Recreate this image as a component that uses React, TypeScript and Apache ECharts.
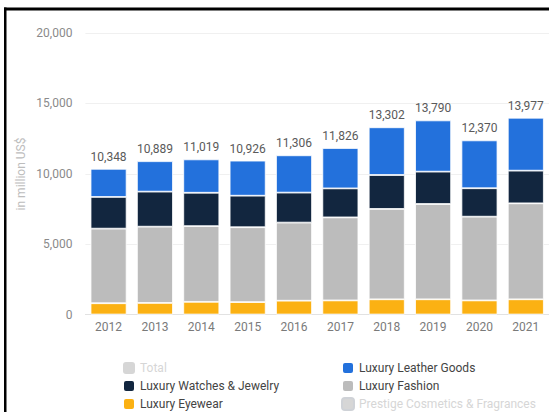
import React, { useEffect, useRef } from "react";
import * as echarts from "echarts";

const years = ["2012", "2013", "2014", "2015", "2016", "2017", "2018", "2019", "2020", "2021"];
const totals = [10348, 10889, 11019, 10926, 11306, 11826, 13302, 13790, 12370, 13977];
const eyewear = [800, 820, 900, 880, 980, 1000, 1080, 1080, 1000, 1080];
const fashion = [5300, 5420, 5380, 5320, 5550, 5900, 6420, 6770, 5950, 6820];
const watches = [2250, 2490, 2370, 2240, 2130, 2060, 2410, 2300, 2020, 2320];
const leather = [2000, 2160, 2370, 2490, 2650, 2870, 3390, 3640, 3400, 3760];
const cosmetics: (number | null)[] = [];
const yTicks = [0, 5000, 10000, 15000, 20000];

const FONT = "Roboto, 'Noto Sans', sans-serif";

export default function App() {
  const ref = useRef<HTMLDivElement>(null);
  useEffect(() => {
    if (!ref.current) return;
    const chart = echarts.init(ref.current, null, { renderer: "svg" });
    const fmt = (v: number) => v.toLocaleString("en-US");
    const seg = (name: string, data: (number | null)[], color: string, extra: any = {}) => ({
      name,
      type: "bar",
      stack: "s",
      data,
      barWidth: 36,
      itemStyle: { color, borderColor: "#ffffff", borderWidth: 0.8 },
      ...extra,
    });
    const selected = { Total: false, "Prestige Cosmetics & Fragrances": false };
    const legendBase = {
      orient: "vertical",
      top: 361,
      height: 60,
      padding: 0,
      itemWidth: 12,
      itemHeight: 12,
      itemGap: 4,
      icon: "roundRect",
      inactiveColor: "#d6d6d6",
      textStyle: { fontFamily: FONT, fontSize: 12, color: "#444", lineHeight: 14 },
      selected,
    };
    chart.setOption({
      animation: false,
      backgroundColor: "#ffffff",
      textStyle: { fontFamily: FONT },
      grid: { left: 85.4, right: -2.5, top: 33, bottom: 97.5, containLabel: false },
      legend: [
        { ...legendBase, left: 122, data: ["Total", "Luxury Watches & Jewelry", "Luxury Eyewear"] },
        { ...legendBase, left: 341, data: ["Luxury Leather Goods", "Luxury Fashion", "Prestige Cosmetics & Fragrances"] },
      ],
      xAxis: {
        type: "category",
        data: years,
        axisTick: { show: false },
        axisLine: { show: true, lineStyle: { color: "#e2e2e2", width: 1 } },
        axisLabel: { color: "#7a7a7a", fontSize: 12, margin: 6, fontFamily: FONT },
      },
      yAxis: {
        type: "value",
        min: yTicks[0],
        max: yTicks[yTicks.length - 1],
        interval: yTicks[1] - yTicks[0],
        axisLine: { show: false },
        axisTick: { show: false },
        splitLine: { lineStyle: { color: "#f0f0f0", width: 1 } },
        axisLabel: { color: "#8a8a8a", fontSize: 12, margin: 13, fontFamily: FONT, formatter: (v: number) => fmt(v) },
      },
      graphic: [
        { type: "rect", left: 4, top: 7.5, shape: { width: 545, height: 3 }, style: { fill: "#000" }, z: 100 },
        { type: "rect", left: 4, top: 7.5, shape: { width: 2.5, height: 405 }, style: { fill: "#000" }, z: 100 },
        {
          type: "text",
          x: 21,
          y: 174,
          rotation: Math.PI / 2,
          style: {
            text: "in million US$",
            fill: "#bdbdbd",
            font: `12px ${FONT}`,
            textAlign: "center",
            textVerticalAlign: "middle",
          },
        },
      ],
      series: [
        { name: "Total", type: "bar", data: totals, barWidth: 36, itemStyle: { color: "#c8c8c8" } },
        seg("Luxury Eyewear", eyewear, "#fbb113"),
        seg("Luxury Fashion", fashion, "#bcbcbc"),
        seg("Luxury Watches & Jewelry", watches, "#12263f"),
        seg("Luxury Leather Goods", leather, "#2371dc", {
          label: {
            show: true,
            position: "top",
            distance: 6,
            color: "#5a5a5a",
            fontSize: 12,
            fontFamily: FONT,
            formatter: (p: any) => fmt(totals[p.dataIndex]),
          },
        }),
        seg("Prestige Cosmetics & Fragrances", cosmetics, "#d0d0d0"),
      ],
    });
    return () => chart.dispose();
  }, []);
  return <div ref={ref} style={{ position: "absolute", left: 0, top: 0, width: 549, height: 412 }} />;
}
